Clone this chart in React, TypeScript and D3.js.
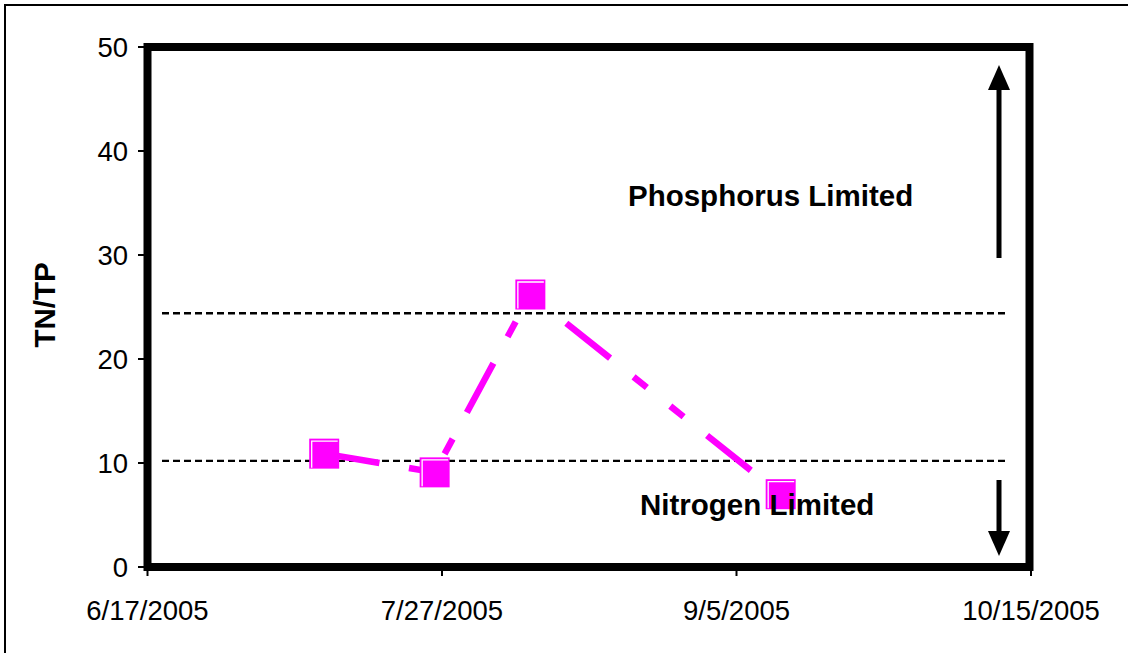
import React from "react";
import * as d3 from "d3";

const sampleDates = ["2005-07-11", "2005-07-26", "2005-08-08", "2005-09-11"];
const tnTpValues = [10.9, 9.1, 26.2, 7.0];
const xTickDates = ["2005-06-17", "2005-07-27", "2005-09-05", "2005-10-15"];
const yTickValues = [0, 10, 20, 30, 40, 50];
const thresholdValues = [10.2, 24.4];
const annotations = ["Phosphorus Limited", "Nitrogen Limited"];
const yAxisTitle = "TN/TP";

const W = 1128;
const H = 653;
const left = 147.5;
const right = 1029.5;
const top = 47;
const bottom = 567;

export default function App() {
  const parse = d3.utcParse("%Y-%m-%d");
  const fmt = d3.utcFormat("%-m/%-d/%Y");
  const xDomain = [parse(xTickDates[0])!, parse(xTickDates[xTickDates.length - 1])!];
  const x = d3.scaleUtc().domain(xDomain).range([left, 1031]);
  const y = d3.scaleLinear().domain([0, 50]).range([bottom, top]);

  const pts = sampleDates.map((d, i) => [x(parse(d)!), y(tnTpValues[i])] as [number, number]);
  const line = d3.line<[number, number]>().x((d) => d[0]).y((d) => d[1]);
  const ms = 30;

  const font = "'Liberation Sans', Arial, sans-serif";
  const arrowX = 999;

  return (
    <svg width={W} height={H} style={{ position: "absolute", left: 0, top: 0, background: "#fff" }}>
      <rect x={5} y={5} width={W + 10} height={H + 10} fill="#fff" stroke="#000" strokeWidth={2} />
      {/* threshold lines */}
      {thresholdValues.map((v, i) => (
        <line key={i} x1={162} x2={1005} y1={y(v)} y2={y(v)} stroke="#000" strokeWidth={2.4} strokeDasharray="7 4" />
      ))}
      {/* data line */}
      <path d={line(pts)!} fill="none" stroke="#FF00FF" strokeWidth={6.5} strokeDasharray="56 30 17 30 17 30" />
      {/* markers */}
      {pts.map((p, i) => (
        <g key={i}>
          <rect x={p[0] - ms / 2} y={p[1] - ms / 2} width={ms} height={ms} fill="#FF00FF" />
          <path
            d={`M${p[0] - ms / 2 + 2.5},${p[1] + ms / 2 - 1} V${p[1] - ms / 2 + 2.5} H${p[0] + ms / 2 - 1.5}`}
            fill="none"
            stroke="#fff"
            strokeWidth={1.3}
          />
        </g>
      ))}
      {/* frame */}
      <rect x={left} y={top} width={right - left} height={bottom - top} fill="none" stroke="#000" strokeWidth={8} />
      {/* y ticks */}
      {yTickValues.map((v) => (
        <g key={v}>
          <line x1={138} x2={left} y1={y(v)} y2={y(v)} stroke="#000" strokeWidth={2} />
          <text x={128} y={y(v)} dy="0.36em" textAnchor="end" fontFamily={font} fontSize={27.5} fill="#000">
            {v}
          </text>
        </g>
      ))}
      {/* x ticks */}
      {xTickDates.map((d) => {
        const xv = x(parse(d)!);
        return (
          <g key={d}>
            <line x1={xv} x2={xv} y1={bottom} y2={576} stroke="#000" strokeWidth={2} />
            <text x={xv} y={620} textAnchor="middle" fontFamily={font} fontSize={27.5} fill="#000">
              {fmt(parse(d)!)}
            </text>
          </g>
        );
      })}
      {/* axis title */}
      <text
        transform={`translate(55,305) rotate(-90)`}
        textAnchor="middle"
        fontFamily={font}
        fontWeight="bold"
        fontSize={29.5}
        fill="#000"
      >
        {yAxisTitle}
      </text>
      {/* annotations */}
      <text x={628} y={206} fontFamily={font} fontWeight="bold" fontSize={29.5} fill="#000">
        {annotations[0]}
      </text>
      <text x={640} y={515} fontFamily={font} fontWeight="bold" fontSize={29.5} fill="#000">
        {annotations[1]}
      </text>
      {/* arrows */}
      <line x1={arrowX} x2={arrowX} y1={258} y2={88} stroke="#000" strokeWidth={5} />
      <path d={`M${arrowX},65 L${arrowX + 11},90 L${arrowX - 11},90 Z`} fill="#000" />
      <line x1={arrowX} x2={arrowX} y1={480} y2={534} stroke="#000" strokeWidth={5} />
      <path d={`M${arrowX},556 L${arrowX + 11},531 L${arrowX - 11},531 Z`} fill="#000" />
    </svg>
  );
}
